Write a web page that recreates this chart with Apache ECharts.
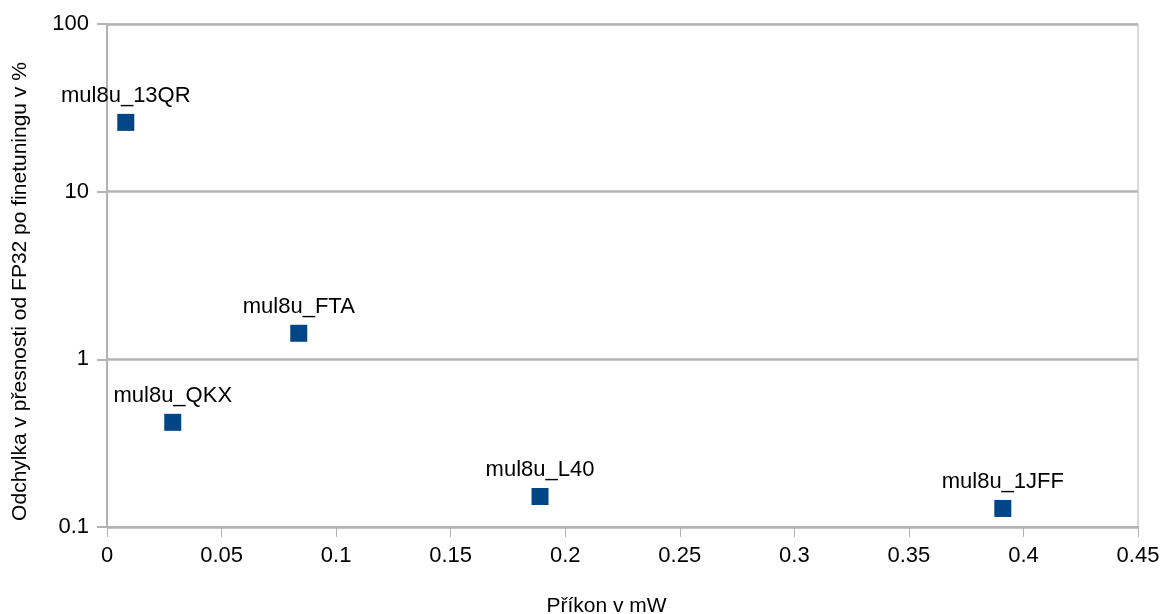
<!DOCTYPE html>
<html><head><meta charset="utf-8">
<script src="https://cdn.jsdelivr.net/npm/echarts@6/dist/echarts.min.js"></script>
<style>html,body{margin:0;padding:0;background:#fff}#c{width:1165px;height:614px}</style>
</head><body><div id="c"></div>
<script>
const names = ['mul8u_13QR','mul8u_QKX','mul8u_FTA','mul8u_L40','mul8u_1JFF'];
const power = [0.0082, 0.0287, 0.0837, 0.189, 0.391];
const deviation = [25.9, 0.421, 1.43, 0.152, 0.129];
const xTicks = [0,0.05,0.1,0.15,0.2,0.25,0.3,0.35,0.4,0.45];
const yTicks = [0.1,1,10,100];
const xName = 'Příkon v mW';
const yName = 'Odchylka v přesnosti od FP32 po finetuningu v %';

const gray = '#b3b3b3';
const font = 'Liberation Sans';
const chart = echarts.init(document.getElementById('c'), null, {renderer:'canvas'});
chart.setOption({
  animation:false,
  backgroundColor:'#fff',
  grid:{left:107,right:27,top:24,bottom:87,containLabel:false,outerBoundsMode:'none',
    show:true,borderColor:gray,borderWidth:1,backgroundColor:'transparent'},
  xAxis:{
    type:'value',min:0,max:0.45,interval:0.05,
    name:xName,nameLocation:'middle',nameGap:69,
    nameTextStyle:{fontFamily:font,fontSize:21,color:'#000',padding:[0,32,0,0]},
    axisLine:{show:true,onZero:false,lineStyle:{color:gray,width:2}},
    axisTick:{show:true,inside:false,length:10,lineStyle:{color:gray,width:1}},
    axisLabel:{fontFamily:font,fontSize:22,color:'#000',margin:18,
      formatter:v=>{const t=xTicks.find(k=>Math.abs(k-v)<1e-9);return t===undefined?'':String(t);}},
    splitLine:{show:false}
  },
  yAxis:{
    type:'log',logBase:10,min:0.1,max:100,
    name:yName,nameLocation:'middle',nameGap:76,
    nameTextStyle:{fontFamily:font,fontSize:21,color:'#000',padding:[0,32,0,0]},
    axisLine:{show:true,onZero:false,lineStyle:{color:gray,width:2}},
    axisTick:{show:true,inside:false,length:10,lineStyle:{color:gray,width:2}},
    axisLabel:{fontFamily:font,fontSize:22,color:'#000',margin:18,
      formatter:v=>{const t=yTicks.find(k=>Math.abs(k-v)/k<1e-6);return t===undefined?'':String(t);}},
    splitLine:{show:true,lineStyle:{color:gray,width:2.5}}
  },
  series:[{
    type:'scatter',
    symbol:'rect',symbolSize:17,
    itemStyle:{color:'#004586',opacity:1},
    data:power.map((x,i)=>({value:[x,deviation[i]],name:names[i]})),
    label:{show:true,position:'top',distance:7,formatter:p=>p.name,
      fontFamily:font,fontSize:22,color:'#000'}
  }]
});
</script></body></html>
